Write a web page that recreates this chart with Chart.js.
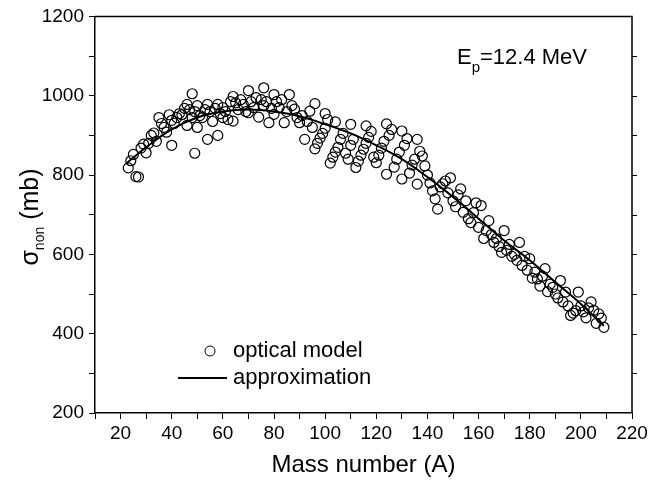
<!DOCTYPE html>
<html>
<head>
<meta charset="utf-8">
<script src="https://cdn.jsdelivr.net/npm/chart.js@4"></script>
<style>
  body { margin: 0; background: #fff; }
</style>
</head>
<body>
<canvas id="chart" width="653" height="488"></canvas>
<script>
// optical model points (mass number, sigma non in mb)
const massA = [23,24,25,26,27,28,29,30,31,32,33,34,35,36,37,38,39,40,40,41,42,43,44,45,46,46,47,48,48,49,49,50,50,51,52,53,54,54,55,56,57,58,58,59,60,60,61,62,63,64,64,65,66,67,68,69,70,70,71,72,73,74,75,76,76,77,78,79,80,80,81,82,83,84,85,86,87,88,89,90,91,92,93,94,95,96,96,97,98,99,100,100,101,102,103,104,104,105,106,107,108,109,110,110,111,112,113,114,115,116,116,117,118,119,120,121,122,123,124,124,125,126,127,128,129,130,130,131,132,133,134,135,136,136,137,138,139,140,141,142,143,144,145,146,147,148,149,150,151,152,153,154,155,156,157,158,159,160,161,162,163,164,165,166,167,168,169,170,171,172,173,174,175,176,177,178,179,180,181,182,183,184,185,186,187,188,189,190,191,192,193,194,195,196,197,198,199,200,201,202,203,204,205,206,207,208,209];
const sigmaOM = [818,836,852,796,795,868,878,856,880,900,906,885,945,930,920,908,952,875,938,930,945,955,952,968,978,925,965,1005,945,855,960,975,920,950,945,965,978,890,960,935,968,978,900,955,945,970,960,940,985,998,936,982,965,990,978,960,1013,957,985,970,995,946,990,1020,975,985,932,968,1003,953,985,970,990,932,960,1003,975,966,945,932,950,890,935,961,920,980,866,880,893,905,955,918,940,830,845,934,858,870,890,905,855,840,928,875,890,819,835,850,865,924,880,895,910,845,831,850,868,885,929,802,900,915,820,840,858,911,790,875,892,805,825,840,890,777,860,848,823,800,780,760,740,714,770,778,785,755,793,735,720,750,765,706,735,690,680,705,730,668,723,640,660,685,650,630,640,620,605,660,610,625,595,600,585,630,572,595,560,589,540,555,538,520,545,564,506,525,517,500,490,534,480,505,470,446,452,458,505,470,455,440,465,480,459,426,450,439,416];

// approximation curve
const fitA = [22,30,40,50,60,70,80,90,100,110,120,130,140,150,160,170,180,190,200,209];
const fitSigma = [828,870,915,945,960,965,960,948,928,905,875,840,795,745,690,635,585,530,475,420];

const xTicks = [20,40,60,80,100,120,140,160,180,200,220];
const yTicks = [200,400,600,800,1000,1200];

const font = "'Liberation Sans', Arial, sans-serif";

const omPoints = massA.map((a, i) => ({x: a, y: sigmaOM[i]}));
const fitPoints = fitA.map((a, i) => ({x: a, y: fitSigma[i]}));

// frame, y title, label, legend
const extras = {
  id: 'extras',
  afterDraw(chart) {
    const ctx = chart.ctx;
    const a = chart.chartArea;
    const ys = chart.scales.y;
    ctx.save();
    ctx.strokeStyle = '#000';
    ctx.lineWidth = 1.5;
    ctx.beginPath();
    ctx.moveTo(a.left, a.top); ctx.lineTo(a.right, a.top);
    ctx.lineTo(a.right, a.bottom);
    ctx.stroke();
    ctx.lineWidth = 1;
    ctx.beginPath();
    for (let v = 300; v < 1200; v += 100) {
      const py = Math.round(ys.getPixelForValue(v)) + 0.5;
      ctx.moveTo(a.right, py); ctx.lineTo(a.right + 5, py);
    }
    ctx.stroke();

    ctx.fillStyle = '#000';
    ctx.textBaseline = 'alphabetic';
    // y title
    ctx.save();
    ctx.translate(38, 217);
    ctx.rotate(-Math.PI / 2);
    ctx.font = '25px ' + font;
    const w1 = ctx.measureText('σ').width;
    ctx.font = '14px ' + font;
    const w2 = ctx.measureText('non').width;
    ctx.font = '25px ' + font;
    const w3 = ctx.measureText(' (mb)').width;
    let x0 = -(w1 + w2 + w3) / 2;
    ctx.fillText('σ', x0, 0);
    ctx.font = '14px ' + font;
    ctx.fillText('non', x0 + w1, 6);
    ctx.font = '25px ' + font;
    ctx.fillText(' (mb)', x0 + w1 + w2, 0);
    ctx.restore();

    // energy label
    ctx.font = '22px ' + font;
    ctx.fillText('E', 457, 64);
    const we = ctx.measureText('E').width;
    ctx.font = '15px ' + font;
    ctx.fillText('p', 457 + we, 72);
    const wp = ctx.measureText('p').width;
    ctx.font = '22px ' + font;
    ctx.fillText('=12.4 MeV', 457 + we + wp, 64);

    // legend
    ctx.beginPath();
    ctx.arc(210, 351, 5, 0, Math.PI * 2);
    ctx.stroke();
    ctx.lineWidth = 2;
    ctx.beginPath();
    ctx.moveTo(178, 378); ctx.lineTo(227, 378);
    ctx.stroke();
    ctx.font = '22px ' + font;
    ctx.textBaseline = 'middle';
    ctx.fillText('optical model', 233, 351);
    ctx.fillText('approximation', 233, 378);
    ctx.restore();
  }
};

new Chart(document.getElementById('chart'), {
  type: 'scatter',
  data: {
    datasets: [{
      label: 'optical model',
      data: omPoints,
      pointStyle: 'circle',
      pointRadius: 5,
      pointBorderWidth: 1.2,
      pointBorderColor: '#000',
      pointBackgroundColor: 'rgba(0,0,0,0)'
    }, {
      label: 'approximation',
      type: 'line',
      data: fitPoints,
      showLine: true,
      borderColor: '#000',
      borderWidth: 2,
      pointRadius: 0,
      tension: 0.4,
      fill: false
    }]
  },
  options: {
    responsive: false,
    animation: false,
    layout: { padding: { left: 10, right: 21, top: 15, bottom: 0 } },
    plugins: { legend: { display: false }, tooltip: { enabled: false } },
    scales: {
      x: {
        type: 'linear', min: 10, max: 220,
        afterFit: (s) => { s.height = 75; },
        ticks: {
          stepSize: 10, autoSkip: false, maxRotation: 0, color: '#000',
          font: { family: font, size: 19 }, padding: 3,
          callback: (v) => xTicks.includes(v) ? v : ''
        },
        grid: { drawOnChartArea: false, drawTicks: true, tickLength: 6, color: '#000' },
        border: { display: true, color: '#000', width: 1.5 },
        title: { display: true, text: 'Mass number (A)', color: '#000',
          font: { family: font, size: 24 }, padding: { top: 4, bottom: 8 } }
      },
      y: {
        type: 'linear', min: 200, max: 1200,
        afterFit: (s) => { s.width = 85; },
        ticks: {
          stepSize: 100, autoSkip: false, color: '#000',
          font: { family: font, size: 19 }, padding: 5,
          callback: (v) => yTicks.includes(v) ? v : ''
        },
        grid: { drawOnChartArea: false, drawTicks: true, tickLength: 6, color: '#000' },
        border: { display: true, color: '#000', width: 1.5 }
      }
    }
  },
  plugins: [extras]
});
</script>
</body>
</html>
